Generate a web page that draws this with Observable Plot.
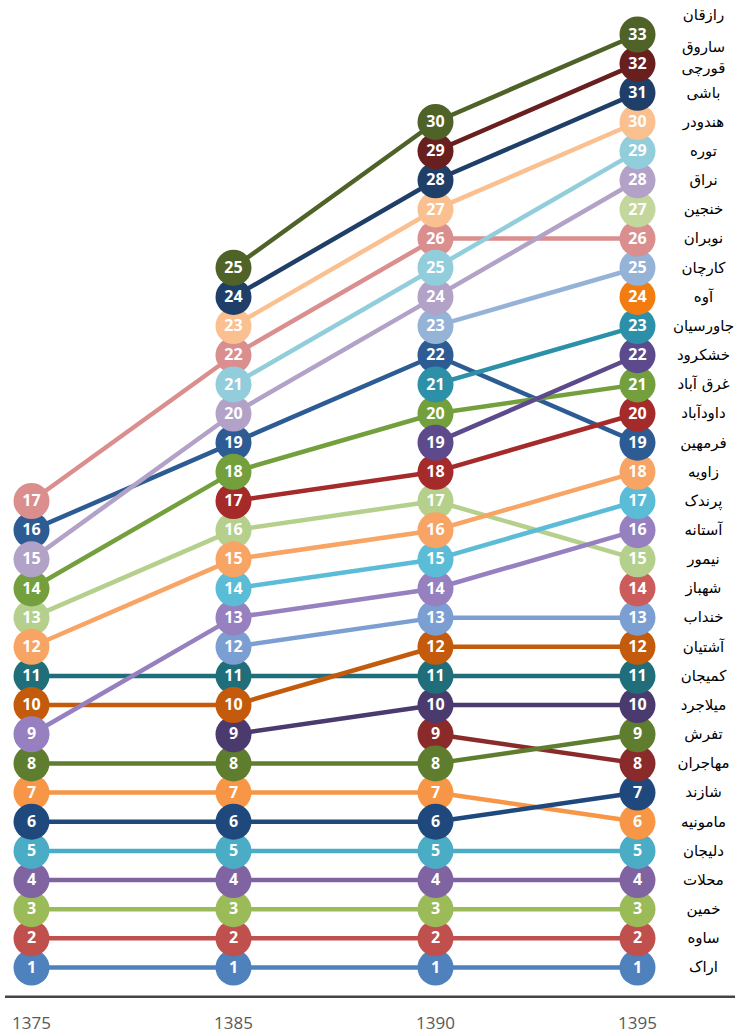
<!DOCTYPE html>
<html>
<head>
<meta charset="utf-8">
<script src="https://cdn.jsdelivr.net/npm/d3@7"></script>
<script src="https://cdn.jsdelivr.net/npm/@observablehq/plot@0.6"></script>
<style>
  html, body { margin: 0; padding: 0; background: #fff; overflow: hidden; }
  #chart svg { display: block; }
</style>
</head>
<body>
<div id="chart"></div>
<script>
// Years (categorical, equally spaced)
const years = ["1375", "1385", "1390", "1395"];

// Cities, ordered by their 1395 rank
const cities = ["اراک","ساوه","خمین","محلات","دلیجان","مامونیه","شازند","مهاجران","تفرش","میلاجرد","کمیجان","آشتیان","خنداب","شهباز","نیمور","آستانه","پرندک","زاویه","فرمهین","داودآباد","غرق آباد","خشکرود","جاورسیان","آوه","کارچان","نوبران","خنجین","نراق","توره","هندودر","باشی","قورچی","ساروق"];

// Rank of each city in each year (null = not present)
const rank1375 = [1,2,3,4,5,7,6,null,8,null,11,10,null,null,13,9,null,12,16,null,14,null,null,null,null,17,null,15,null,null,null,null,null];
const rank1385 = [1,2,3,4,5,7,6,null,8,9,11,10,12,null,16,13,14,15,19,17,18,null,null,null,null,22,null,20,21,23,24,null,25];
const rank1390 = [1,2,3,4,5,7,6,9,8,10,11,12,13,null,17,14,15,16,22,18,20,19,21,null,23,26,null,24,25,27,28,29,30];
const rank1395 = [1,2,3,4,5,6,7,8,9,10,11,12,13,14,15,16,17,18,19,20,21,22,23,24,25,26,27,28,29,30,31,32,33];

// Colour of each city
const cityColors = ["#4F81BD","#C0504D","#9BBB59","#8064A2","#4BACC6","#F79646","#1F497D","#8B2A2A","#5F7D2E","#4B3A6E","#1F6E7A","#C45A0B","#7B9FD2","#CC5C5C","#B4D08C","#9680C0","#5ABCD6","#F8A464","#2D5C95","#A52A2A","#73A03C","#5C4A8C","#2C91A8","#F27C10","#95B3D7","#DA8E8E","#C3D69B","#B3A2C7","#92CDDC","#FAC090","#1F3F68","#6A1F1F","#4F6228"];

// Right-hand name labels (bottom to top) and the rank level each sits at
const labelNames = ["اراک","ساوه","خمین","محلات","دلیجان","مامونیه","شازند","مهاجران","تفرش","میلاجرد","کمیجان","آشتیان","خنداب","شهباز","نیمور","آستانه","پرندک","زاویه","فرمهین","داودآباد","غرق آباد","خشکرود","جاورسیان","آوه","کارچان","نوبران","خنجین","نراق","توره","هندودر","باشی","قورچی","ساروق","رازقان"];
const labelRanks = [1,2,3,4,5,6,7,8,9,10,11,12,13,14,15,16,17,18,19,20,21,22,23,24,25,26,27,28,29,30,31,31.83,32.55,33.65];

// Build tidy rows
const rankByYear = {"1375": rank1375, "1385": rank1385, "1390": rank1390, "1395": rank1395};
const rows = [];
cities.forEach((c, i) => {
  years.forEach(y => {
    const r = rankByYear[y][i];
    if (r != null) rows.push({city: c, year: y, rank: r, color: cityColors[i]});
  });
});
const labels = labelNames.map((n, i) => ({name: n, rank: labelRanks[i]}));

const numFont = "'Open Sans', 'DejaVu Sans', sans-serif";

const chart = Plot.plot({
  width: 735,
  height: 1034,
  marginLeft: 5,
  marginRight: 0,
  marginTop: 0,
  marginBottom: 38,
  style: {fontFamily: "'Open Sans', sans-serif", fontSize: "17px", color: "#595959", background: "#fff"},
  x: {type: "point", domain: years, range: [30, 637], padding: 0, label: null, tickSize: 0, tickPadding: 20},
  y: {domain: [1, 33], range: [967, 34], axis: null},
  color: {type: "identity"},
  marks: [
    Plot.ruleY([0], {stroke: "#444", strokeWidth: 2.5}),
    Plot.line(rows, {x: "year", y: "rank", z: "city", stroke: "color", strokeWidth: 4.5, curve: "linear"}),
    Plot.dot(rows, {x: "year", y: "rank", r: 18, fill: "color", stroke: null}),
    Plot.text(rows, {x: "year", y: "rank", text: d => String(d.rank), fill: "white", fontWeight: "bold", fontSize: 16, fontFamily: numFont}),
    Plot.text(labels, {x: () => "1395", y: "rank", text: "name", dx: 66, fill: "#000", fontSize: 15, fontFamily: "'DejaVu Sans', sans-serif"})
  ]
});
document.getElementById("chart").appendChild(chart);
</script>
</body>
</html>
